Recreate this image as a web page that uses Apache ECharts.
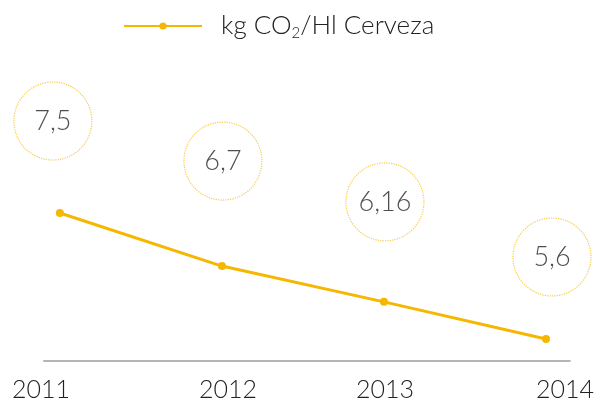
<!DOCTYPE html>
<html>
<head>
<meta charset="utf-8">
<script src="https://cdn.jsdelivr.net/npm/echarts@6/dist/echarts.min.js"></script>
<style>
  html, body { margin: 0; padding: 0; background: #fff; }
  #chart { width: 597px; height: 403px; }
</style>
</head>
<body>
<div id="chart"></div>
<script>
const years = [2011, 2012, 2013, 2014];
const values = [7.5, 6.7, 6.16, 5.6];
const valueLabels = ['7,5', '6,7', '6,16', '5,6'];
const seriesName = 'kg CO2/Hl Cerveza';

// bubble offsets from each point, px
const bubbleOffsets = [[-7, -92], [1, -105], [1, -100], [6, -82]];
// year label shifts, px (left padding, right padding)
const yearPads = [[0, 38], [12, 0], [2, 0], [38, 0]];

const yellow = '#f5b700';
const font = 'Lato';

const chart = echarts.init(document.getElementById('chart'));

const option = {
  backgroundColor: '#fff',
  animation: false,
  legend: {
    data: [seriesName],
    top: 8,
    left: 118,
    itemWidth: 78,
    itemHeight: 9,
    formatter: () => '{a|kg CO}{s|2}{b|/Hl Cerveza}',
    textStyle: {
      rich: {
        a: { fontFamily: font, fontWeight: 300, fontSize: 26, color: '#222', padding: [0, 0, 0, 14] },
        b: { fontFamily: font, fontWeight: 300, fontSize: 26, color: '#222' },
        s: { fontFamily: font, fontWeight: 300, fontSize: 15, color: '#222', verticalAlign: 'bottom', padding: [14, 0, 0, 0] }
      }
    }
  },
  grid: { left: 44, right: 24, top: 60, bottom: 42 },
  xAxis: {
    type: 'value',
    min: 2010.902,
    max: 2014.147,
    splitLine: { show: false },
    axisTick: { show: false },
    axisLine: { show: true, lineStyle: { color: '#b5b5b5', width: 2 } },
    axisLabel: {
      customValues: years,
      margin: 16,
      formatter: (v) => {
        const i = years.indexOf(Math.round(v));
        return '{y' + i + '|' + years[i] + '}';
      },
      rich: Object.fromEntries(yearPads.map((p, i) => ['y' + i, {
        fontFamily: font, fontWeight: 300, fontSize: 25, color: '#222',
        padding: [0, p[1], 0, p[0]]
      }]))
    }
  },
  yAxis: {
    type: 'value',
    min: 5.268,
    max: 9.808,
    show: false
  },
  series: [
    {
      name: seriesName,
      type: 'line',
      data: years.map((y, i) => [y, values[i]]),
      symbol: 'circle',
      symbolSize: 8,
      lineStyle: { color: yellow, width: 3 },
      itemStyle: { color: yellow }
    },
    {
      name: 'bubbles',
      type: 'scatter',
      silent: true,
      data: years.map((y, i) => ({
        value: [y, values[i]],
        symbolOffset: bubbleOffsets[i]
      })),
      symbol: 'circle',
      symbolSize: 78,
      itemStyle: {
        color: 'rgba(255,255,255,0)',
        borderColor: '#f2be1a',
        borderWidth: 1.2,
        borderType: 'dotted'
      },
      label: {
        show: true,
        position: 'inside',
        formatter: (p) => valueLabels[p.dataIndex],
        fontFamily: font,
        fontWeight: 300,
        fontSize: 27,
        color: '#222'
      }
    }
  ]
};

chart.setOption(option);
</script>
</body>
</html>
